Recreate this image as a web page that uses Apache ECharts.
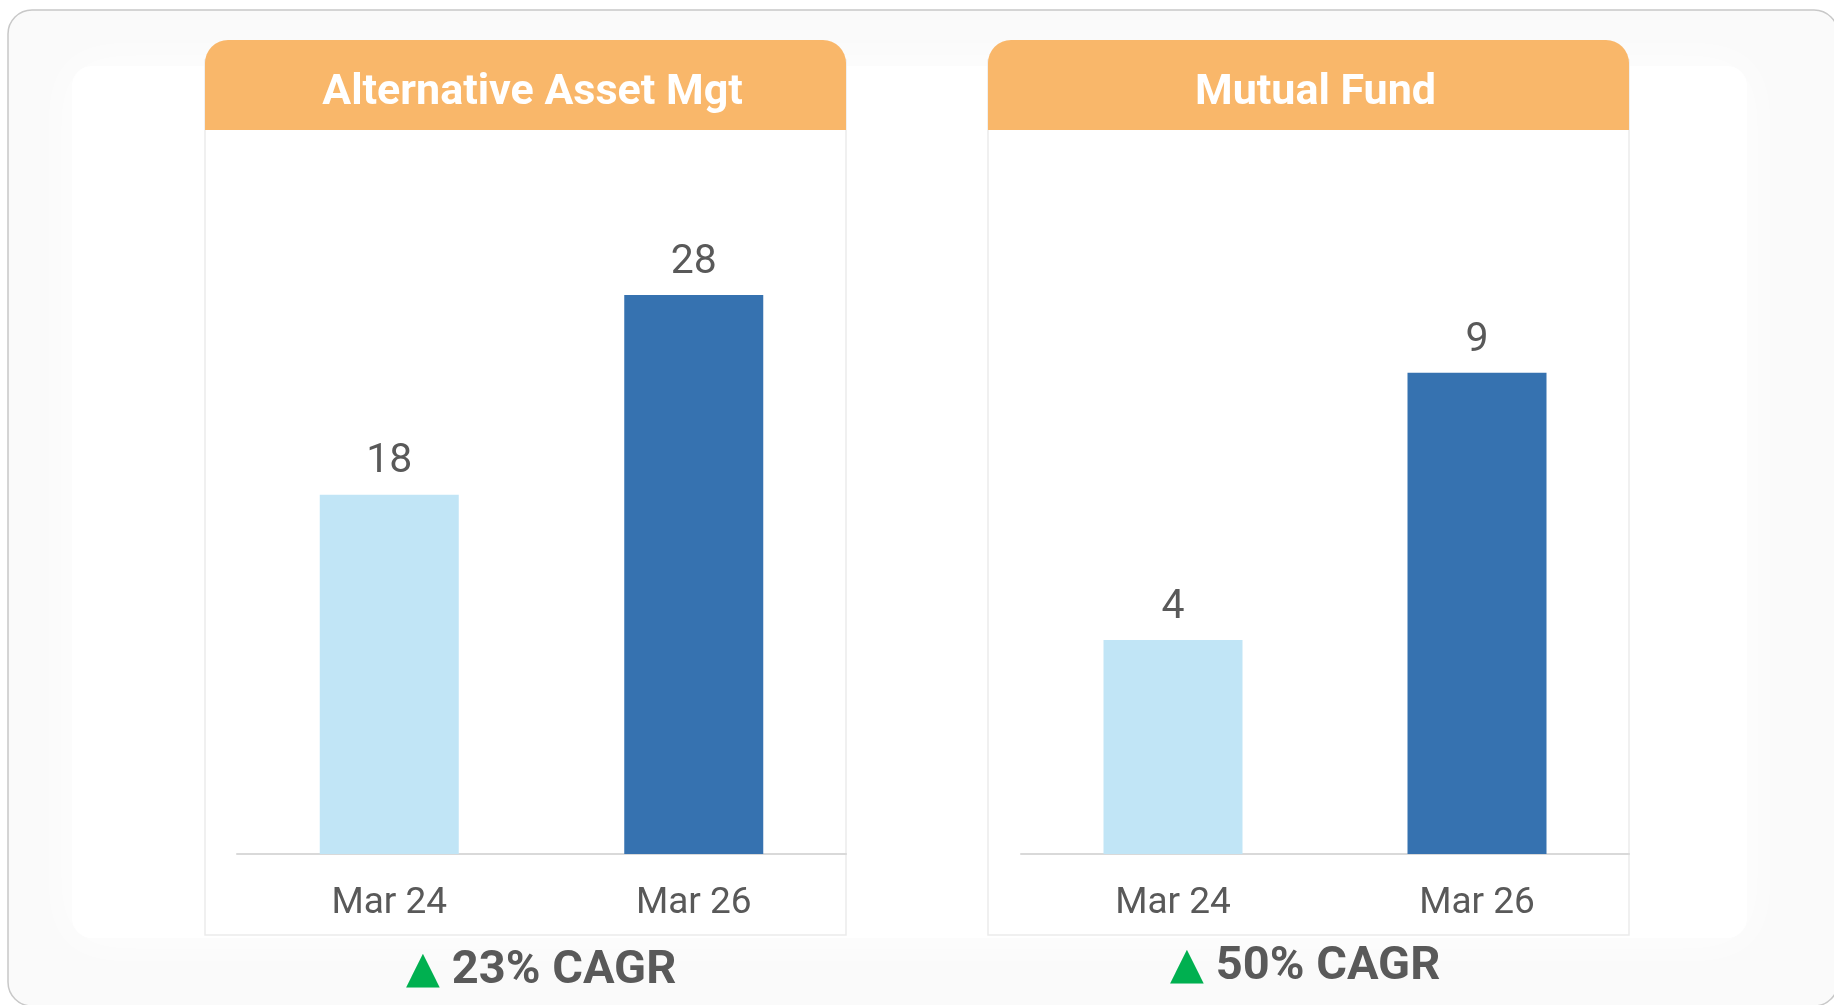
<!DOCTYPE html>
<html>
<head>
<meta charset="utf-8">
<script src="https://cdn.jsdelivr.net/npm/echarts@6/dist/echarts.min.js"></script>
<style>
  html, body { margin: 0; padding: 0; background: #ffffff; }
  #chart { width: 1834px; height: 1005px; }
</style>
</head>
<body>
<div id="chart"></div>
<script>
// data
const panelTitles = ['Alternative Asset Mgt', 'Mutual Fund']
const periods = ['Mar 24', 'Mar 26']
const altAssetValues = [18, 28]
const mutualFundValues = [4, 9]
const cagrLabels = ['23% CAGR', '50% CAGR']

const barColors = ['#C1E5F6', '#3672B0']
const textGray = '#595959'
const headerColor = '#F9B76A'

const chart = echarts.init(document.getElementById('chart'))

// panel boxes (x, width)
const panels = [
  { x: 205, w: 641, gridLeft: 237, gridWidth: 609, max: 35, unit: 19.96, cagrX: 406, cagrY: 971 },
  { x: 988, w: 641, gridLeft: 1021, gridWidth: 608, max: 13, unit: 53.47, cagrX: 1170, cagrY: 967 }
]
const axisBase = 854

const graphics = [
  // outer card
  {
    type: 'rect', z: -20,
    shape: { x: 8, y: 10, width: 1830, height: 996, r: 24 },
    style: { fill: '#fafafa', stroke: '#c8c8c8', lineWidth: 1.5 }
  },
  // soft white inner area
  {
    type: 'rect', z: -19,
    shape: { x: 72, y: 66, width: 1675, height: 872, r: 20 },
    style: { fill: '#ffffff', shadowBlur: 50, shadowColor: '#ffffff' }
  }
]

panels.forEach((p, i) => {
  graphics.push({
    type: 'rect', z: -10,
    shape: { x: p.x, y: 60, width: p.w, height: 875 },
    style: { fill: '#ffffff', stroke: '#ebebeb', lineWidth: 1.5 }
  })
  graphics.push({
    type: 'rect', z: -9,
    shape: { x: p.x, y: 40, width: p.w, height: 90, r: [23, 23, 0, 0] },
    style: { fill: headerColor }
  })
  graphics.push({
    type: 'text', z: 10,
    x: p.x + p.w / 2 + 7, y: 93,
    style: {
      text: panelTitles[i],
      fill: '#ffffff',
      font: 'bold 43px Roboto',
      textAlign: 'center',
      textVerticalAlign: 'middle'
    }
  })
  graphics.push({
    type: 'text', z: 10,
    x: p.cagrX, y: p.cagrY,
    style: {
      text: '{t|▲}{v|' + cagrLabels[i] + '}',
      textAlign: 'left',
      textVerticalAlign: 'middle',
      rich: {
        t: { fontFamily: 'DejaVu Sans', fontSize: 44, fill: '#00B050', color: '#00B050', padding: [0, 12, 0, 0] },
        v: { fontFamily: 'Roboto', fontWeight: 'bold', fontSize: 47, fill: textGray, color: textGray }
      }
    }
  })
})

const makeSeries = (values, idx) => ({
  type: 'bar',
  xAxisIndex: idx,
  yAxisIndex: idx,
  barWidth: 139,
  data: values.map((v, j) => ({ value: v, itemStyle: { color: barColors[j] } })),
  label: {
    show: true,
    position: 'top',
    distance: 12,
    color: textGray,
    fontFamily: 'Roboto',
    fontSize: 41
  }
})

const option = {
  animation: false,
  graphic: graphics,
  grid: panels.map(p => ({
    left: p.gridLeft,
    width: p.gridWidth,
    top: axisBase - p.max * p.unit,
    bottom: 1005 - axisBase
  })),
  xAxis: panels.map((p, i) => ({
    type: 'category',
    gridIndex: i,
    data: periods,
    axisLine: { lineStyle: { color: '#d9d9d9', width: 2 } },
    axisTick: { show: false },
    axisLabel: { color: textGray, fontFamily: 'Roboto', fontSize: 37, margin: 31 }
  })),
  yAxis: panels.map((p, i) => ({
    type: 'value',
    gridIndex: i,
    min: 0,
    max: p.max,
    show: false
  })),
  series: [
    makeSeries(altAssetValues, 0),
    makeSeries(mutualFundValues, 1)
  ]
}

chart.setOption(option)
</script>
</body>
</html>
